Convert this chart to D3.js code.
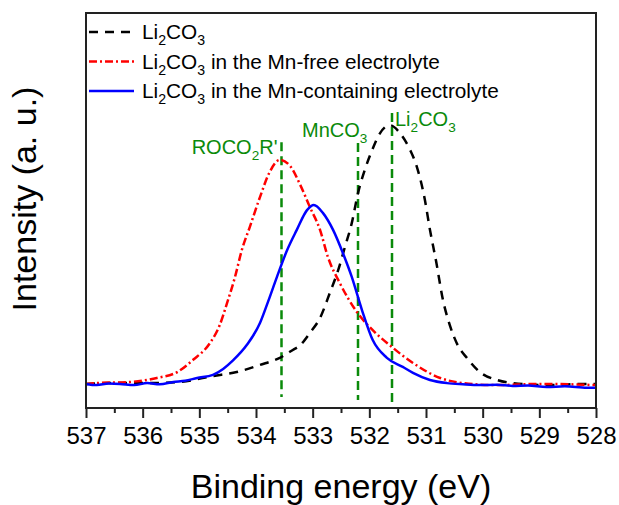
<!DOCTYPE html>
<html>
<head>
<meta charset="utf-8">
<script src="https://cdn.jsdelivr.net/npm/d3@7/dist/d3.min.js"></script>
<style>
  body { margin: 0; background: #fff; }
  svg { display: block; font-family: Arial, "Liberation Sans", sans-serif; }
</style>
</head>
<body>
<script>
// binding energy (eV) and intensity (a. u.)
var energyTicks = [537, 536, 535, 534, 533, 532, 531, 530, 529, 528];

var li2co3E = [537.0, 536.52, 535.92, 535.34, 534.76, 534.34, 533.93, 533.58, 533.35, 533.22, 533.05, 532.87, 532.69, 532.55, 532.43, 532.31, 532.2, 532.08, 531.95, 531.81, 531.64, 531.46, 531.28, 531.16, 531.02, 530.93, 530.82, 530.7, 530.58, 530.44, 530.28, 530.05, 529.75, 529.47, 528.87, 528.16, 528.0];
var li2co3I = [6.1, 6.3, 6.3, 6.6, 8.1, 9.1, 10.9, 12.7, 14.7, 15.9, 19.0, 22.8, 29.4, 34.9, 40.8, 46.8, 54.4, 60.3, 65.3, 69.6, 71.6, 69.6, 65.3, 61.0, 52.7, 45.1, 37.0, 27.3, 21.0, 15.9, 12.7, 9.1, 7.1, 6.3, 5.8, 6.1, 6.1];

var mnFreeE = [537.0, 536.81, 536.22, 535.75, 535.39, 535.11, 534.81, 534.64, 534.51, 534.37, 534.25, 534.11, 533.93, 533.76, 533.58, 533.4, 533.22, 533.05, 532.87, 532.73, 532.52, 532.22, 531.94, 531.64, 531.23, 530.75, 530.35, 529.75, 529.0, 528.0];
var mnFreeI = [6.1, 6.3, 6.6, 7.6, 9.1, 12.2, 16.5, 21.0, 26.6, 33.2, 40.0, 45.8, 53.4, 59.7, 62.8, 61.3, 56.5, 50.9, 45.1, 38.2, 31.6, 24.3, 19.7, 15.9, 11.4, 7.6, 6.3, 5.8, 6.1, 5.8];

var mnContE = [537.0, 536.81, 536.6, 536.4, 536.15, 535.92, 535.7, 535.46, 535.25, 535.04, 534.76, 534.58, 534.41, 534.16, 533.93, 533.79, 533.63, 533.45, 533.28, 533.1, 532.98, 532.82, 532.64, 532.46, 532.31, 532.13, 531.94, 531.69, 531.41, 531.23, 530.93, 530.63, 530.35, 530.05, 529.75, 529.47, 529.2, 528.87, 528.55, 528.16, 528.0];
var mnContI = [6.1, 5.8, 6.2, 6.1, 5.8, 6.3, 6.0, 6.6, 6.9, 7.6, 8.4, 9.9, 12.0, 16.0, 21.5, 26.8, 33.2, 40.0, 45.1, 50.1, 51.4, 49.4, 45.1, 39.0, 33.2, 24.8, 17.2, 12.7, 10.4, 8.9, 7.1, 6.3, 6.0, 5.8, 5.9, 5.6, 5.7, 5.3, 5.5, 5.1, 5.1];

// reference peak positions
var refNames = ['ROCO2R\'', 'MnCO3', 'Li2CO3'];
var refE = [533.55, 532.2, 531.6];
var refTop = [67.3, 67.1, 74.7];
var refBottom = [2.8, 2.0, 0.5];

var legendNames = ['Li2CO3', 'Li2CO3 in the Mn-free electrolyte', 'Li2CO3 in the Mn-containing electrolyte'];

var width = 619;
var height = 505;
var margin = {left: 86, right: 23, top: 13, bottom: 97};

var svg = d3.select('body').append('svg')
  .attr('width', width)
  .attr('height', height);

var x = d3.scaleLinear().domain([537, 528]).range([margin.left, width - margin.right]);
var y = d3.scaleLinear().domain([0, 100]).range([height - margin.bottom, margin.top]);

var series = [
  {e: li2co3E, i: li2co3I, color: '#000000', dash: '9,7'},
  {e: mnFreeE, i: mnFreeI, color: '#ff0000', dash: '8,3,2,3'},
  {e: mnContE, i: mnContI, color: '#0000ff', dash: null}
];

var line = d3.line()
  .x(function(d) { return x(d[0]); })
  .y(function(d) { return y(d[1]); })
  .curve(d3.curveMonotoneX);

var green = '#0a8a0a';

// reference peaks
refE.forEach(function(e, k) {
  svg.append('line')
    .attr('x1', x(e)).attr('x2', x(e))
    .attr('y1', y(refTop[k])).attr('y2', y(refBottom[k]))
    .attr('stroke', green)
    .attr('stroke-width', 2.5)
    .attr('stroke-dasharray', '9,5');
});

// spectra, drawn black first so blue is on top
series.forEach(function(s) {
  var pts = s.e.map(function(e, k) { return [e, s.i[k]]; });
  svg.append('path')
    .datum(pts)
    .attr('d', line)
    .attr('fill', 'none')
    .attr('stroke', s.color)
    .attr('stroke-width', 2.5)
    .attr('stroke-dasharray', s.dash);
});

// text with subscript digits (Li2, CO3, CO2)
var chem = function(sel, str, size) {
  var prevSub = false;
  str.replace(/([A-Za-z)'])([23])/g, '$1\u0000$2\u0000').split('\u0000').forEach(function(p, k) {
    if (p === '') return;
    var ts = sel.append('tspan').text(p);
    if (k % 2 === 1) {
      ts.attr('font-size', size * 0.68).attr('dy', size * 0.3);
      prevSub = true;
    } else if (prevSub) {
      ts.attr('dy', -size * 0.3);
      prevSub = false;
    }
  });
};

var refLabels = [
  {x: x(refE[0]) - 4, y: 154, anchor: 'end'},
  {x: 302, y: 137, anchor: 'start'},
  {x: 395, y: 126, anchor: 'start'}
];
refNames.forEach(function(n, k) {
  var t = svg.append('text')
    .attr('x', refLabels[k].x)
    .attr('y', refLabels[k].y)
    .attr('text-anchor', refLabels[k].anchor)
    .attr('fill', green)
    .attr('font-size', 20);
  chem(t, n, 20);
});

// legend
legendNames.forEach(function(n, k) {
  var ly = 32 + k * 29.5;
  svg.append('line')
    .attr('x1', 89).attr('x2', 134)
    .attr('y1', ly).attr('y2', ly)
    .attr('stroke', series[k].color)
    .attr('stroke-width', 2.5)
    .attr('stroke-dasharray', series[k].dash);
  var t = svg.append('text')
    .attr('x', 142)
    .attr('y', ly + 7)
    .attr('font-size', 20.8)
    .attr('fill', '#000');
  chem(t, n, 20.8);
});

// frame
svg.append('rect')
  .attr('x', margin.left).attr('y', margin.top)
  .attr('width', width - margin.left - margin.right)
  .attr('height', height - margin.top - margin.bottom)
  .attr('fill', 'none')
  .attr('stroke', '#222')
  .attr('stroke-width', 2);

// bottom axis, major and minor ticks outward
var axisY = height - margin.bottom;
svg.append('g')
  .attr('transform', 'translate(0,' + axisY + ')')
  .call(d3.axisBottom(x).tickValues(d3.range(528.5, 537, 1)).tickSize(5).tickFormat(''))
  .call(function(g) { g.select('.domain').remove(); g.selectAll('line').attr('stroke', '#222').attr('stroke-width', 2); });

svg.append('g')
  .attr('transform', 'translate(0,' + axisY + ')')
  .call(d3.axisBottom(x).tickValues(energyTicks).tickSize(10).tickPadding(9).tickFormat(d3.format('d')))
  .call(function(g) {
    g.select('.domain').remove();
    g.selectAll('line').attr('stroke', '#222').attr('stroke-width', 2);
    g.selectAll('text').attr('font-size', 24).attr('fill', '#000')
      .attr('font-family', 'Arial, "Liberation Sans", sans-serif');
  });

// axis titles
svg.append('text')
  .attr('x', x(532.5))
  .attr('y', 498)
  .attr('text-anchor', 'middle')
  .attr('font-size', 34)
  .text('Binding energy (eV)');

svg.append('text')
  .attr('transform', 'translate(36,199) rotate(-90)')
  .attr('text-anchor', 'middle')
  .attr('font-size', 34)
  .text('Intensity (a. u.)');
</script>
</body>
</html>
